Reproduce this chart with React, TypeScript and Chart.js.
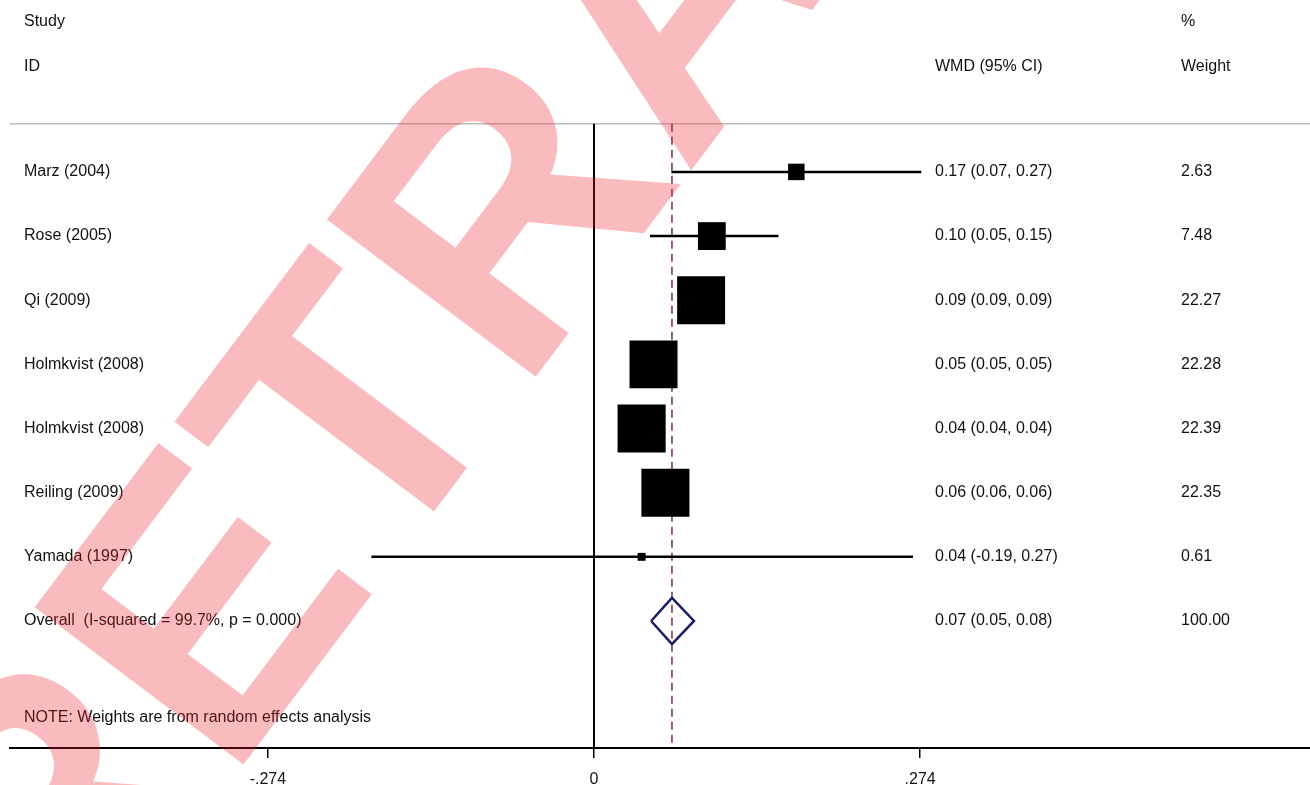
import React, { useEffect, useRef } from 'react';
import { Chart, registerables } from 'chart.js';

Chart.register(...registerables);

const studies = [
  'Marz (2004)',
  'Rose (2005)',
  'Qi (2009)',
  'Holmkvist (2008)',
  'Holmkvist (2008)',
  'Reiling (2009)',
  'Yamada (1997)',
];
const estimates = [0.17, 0.099, 0.09, 0.05, 0.04, 0.06, 0.04];
const lowerCI = [0.065, 0.047, 0.09, 0.05, 0.04, 0.06, -0.187];
const upperCI = [0.275, 0.155, 0.09, 0.05, 0.04, 0.06, 0.268];
const wmdLabels = [
  '0.17 (0.07, 0.27)',
  '0.10 (0.05, 0.15)',
  '0.09 (0.09, 0.09)',
  '0.05 (0.05, 0.05)',
  '0.04 (0.04, 0.04)',
  '0.06 (0.06, 0.06)',
  '0.04 (-0.19, 0.27)',
];
const weights = [2.63, 7.48, 22.27, 22.28, 22.39, 22.35, 0.61];
const weightLabels = ['2.63', '7.48', '22.27', '22.28', '22.39', '22.35', '0.61'];

const overallLabel = 'Overall  (I-squared = 99.7%, p = 0.000)';
const overallEstimate = 0.0655;
const overallLower = 0.048;
const overallUpper = 0.084;
const overallWmd = '0.07 (0.05, 0.08)';
const overallWeight = '100.00';

const xTickValues = [-0.274, 0, 0.274];
const xTickLabels = ['-.274', '0', '.274'];

const noteText = 'NOTE: Weights are from random effects analysis';
const watermarkText = 'RETRACTED';

// layout constants (row units on the hidden y scale)
const Y_MIN = -2.68;
const Y_MAX = 8.98;
const X_MIN = -0.4907;
const X_MAX = 0.6016;
const HEADER_ROW1 = -2.34;
const HEADER_ROW2 = -1.64;
const RULE_ROW = -0.75;
const NOTE_ROW = 8.5;
const OVERALL_ROW = studies.length;
const DIAMOND_HALF = 0.36;
const MAX_BOX = 48;
const MAX_WEIGHT = 22.3;

const FONT = '"Liberation Sans", Arial, Helvetica, sans-serif';

export default function App() {
  const ref = useRef<HTMLCanvasElement | null>(null);

  useEffect(() => {
    if (!ref.current) return;
    Chart.defaults.font.family = FONT;

    const ciSets = studies.map((_, i) => ({
      type: 'scatter' as const,
      data: [
        { x: lowerCI[i], y: i },
        { x: upperCI[i], y: i },
      ],
      showLine: true,
      borderColor: '#000',
      borderWidth: 2.5,
      pointRadius: 0,
      order: 5,
    }));

    const textPlugin = {
      id: 'forestText',
      afterDraw(chart: any) {
        const ctx = chart.ctx;
        const ys = chart.scales.y;
        ctx.save();
        ctx.fillStyle = '#111';
        ctx.font = `16px ${FONT}`;
        ctx.textBaseline = 'middle';
        ctx.textAlign = 'left';
        const colStudy = 24;
        const colWmd = 935;
        const colWeight = 1181;
        ctx.fillText('Study', colStudy, ys.getPixelForValue(HEADER_ROW1));
        ctx.fillText('ID', colStudy, ys.getPixelForValue(HEADER_ROW2));
        ctx.fillText('WMD (95% CI)', colWmd, ys.getPixelForValue(HEADER_ROW2));
        ctx.fillText('%', colWeight, ys.getPixelForValue(HEADER_ROW1));
        ctx.fillText('Weight', colWeight, ys.getPixelForValue(HEADER_ROW2));
        studies.forEach((s, i) => {
          const y = ys.getPixelForValue(i);
          ctx.fillText(s, colStudy, y);
          ctx.fillText(wmdLabels[i], colWmd, y);
          ctx.fillText(weightLabels[i], colWeight, y);
        });
        const yo = ys.getPixelForValue(OVERALL_ROW);
        ctx.fillText(overallLabel, colStudy, yo);
        ctx.fillText(overallWmd, colWmd, yo);
        ctx.fillText(overallWeight, colWeight, yo);
        ctx.fillText(noteText, colStudy, ys.getPixelForValue(NOTE_ROW));
        ctx.restore();

        // watermark
        ctx.save();
        ctx.translate(63, 1004);
        ctx.rotate((-53 * Math.PI) / 180);
        ctx.font = `bold 380px ${FONT}`;
        ctx.fillStyle = 'rgba(240, 30, 40, 0.3)';
        ctx.textBaseline = 'alphabetic';
        ctx.textAlign = 'left';
        ctx.fillText(watermarkText, 0, 0);
        ctx.restore();
      },
    };

    const chart = new Chart(ref.current, {
      type: 'scatter',
      data: {
        datasets: [
          // header rule
          {
            type: 'scatter',
            data: [
              { x: X_MIN, y: RULE_ROW },
              { x: X_MAX, y: RULE_ROW },
            ],
            showLine: true,
            borderColor: '#bdbdbd',
            borderWidth: 1.5,
            pointRadius: 0,
            order: 10,
          },
          // null line
          {
            type: 'scatter',
            data: [
              { x: 0, y: RULE_ROW },
              { x: 0, y: Y_MAX },
            ],
            showLine: true,
            borderColor: '#000',
            borderWidth: 2,
            pointRadius: 0,
            order: 9,
          },
          // overall dashed line
          {
            type: 'scatter',
            data: [
              { x: overallEstimate, y: RULE_ROW },
              { x: overallEstimate, y: Y_MAX },
            ],
            showLine: true,
            borderColor: '#7d2a3c',
            borderWidth: 1.5,
            borderDash: [8, 5],
            pointRadius: 0,
            order: 8,
          },
          ...ciSets,
          // boxes
          {
            type: 'scatter',
            data: estimates.map((e, i) => ({ x: e, y: i })),
            pointStyle: 'rect',
            pointRadius: weights.map(
              (w) => (MAX_BOX * Math.sqrt(w / MAX_WEIGHT)) / Math.SQRT2
            ),
            pointBackgroundColor: '#000',
            pointBorderColor: '#000',
            pointBorderWidth: 0,
            order: 1,
          },
          // diamond
          {
            type: 'scatter',
            data: [
              { x: overallLower, y: OVERALL_ROW },
              { x: overallEstimate, y: OVERALL_ROW - DIAMOND_HALF },
              { x: overallUpper, y: OVERALL_ROW },
              { x: overallEstimate, y: OVERALL_ROW + DIAMOND_HALF },
              { x: overallLower, y: OVERALL_ROW },
            ],
            showLine: true,
            borderColor: '#1c1c6b',
            borderWidth: 2.5,
            pointRadius: 0,
            order: 0,
          },
        ] as any,
      },
      options: {
        animation: false,
        responsive: false,
        layout: { autoPadding: false, padding: { left: 10, right: 0, top: 0, bottom: 0 } },
        plugins: {
          legend: { display: false },
          tooltip: { enabled: false },
        },
        scales: {
          x: {
            type: 'linear',
            min: X_MIN,
            max: X_MAX,
            position: 'bottom',
            border: { display: true, color: '#000', width: 2 },
            grid: {
              display: true,
              drawOnChartArea: false,
              drawTicks: true,
              tickLength: 10,
              color: '#000',
              lineWidth: 1.5,
            },
            afterBuildTicks: (scale: any) => {
              scale.ticks = xTickValues.map((v) => ({ value: v }));
            },
            afterFit: (scale: any) => {
              scale.height = 37;
            },
            ticks: {
              color: '#111',
              padding: 12,
              font: { size: 16, family: FONT },
              maxRotation: 0,
              autoSkip: false,
              callback: (_v: any, index: number) => xTickLabels[index],
            },
          },
          y: {
            type: 'linear',
            display: false,
            reverse: true,
            min: Y_MIN,
            max: Y_MAX,
          },
        },
      },
      plugins: [textPlugin],
    } as any);

    return () => chart.destroy();
  }, []);

  return (
    <div style={{ position: 'absolute', left: 0, top: 0, width: 1310, height: 785, background: '#fff' }}>
      <canvas ref={ref} width={1310} height={785} />
    </div>
  );
}
